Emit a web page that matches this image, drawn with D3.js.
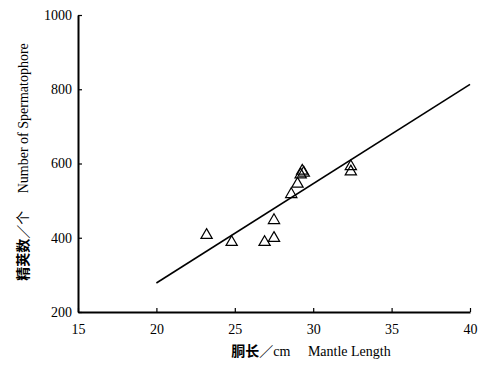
<!DOCTYPE html>
<html>
<head>
<meta charset="utf-8">
<script src="https://cdn.jsdelivr.net/npm/d3@7"></script>
<style>
  body { margin: 0; background: #fff; }
  text { font-family: "Liberation Serif", "Noto Sans CJK SC", serif; fill: #000; }
</style>
</head>
<body>
<div id="chart"></div>
<script>
// mantle length (cm) and spermatophore count for each animal
var mantle = [23.2, 24.8, 26.9, 27.5, 27.5, 28.6, 29.0, 29.2, 29.3, 29.4, 32.4, 32.4]
var counts = [407, 388, 388, 399, 447, 517, 545, 570, 580, 575, 592, 578]

// regression line endpoints
var fitX = [20, 40]
var fitY = [278, 813]

var xTicks = [15, 20, 25, 30, 35, 40]
var yTicks = [200, 400, 600, 800, 1000]

var margin = {top: 15, right: 10, bottom: 54, left: 78}
var W = 480, H = 366
var width = W - margin.left - margin.right
var height = H - margin.top - margin.bottom

var svg = d3.select("#chart").append("svg")
    .attr("width", W)
    .attr("height", H)

var g = svg.append("g")
    .attr("transform", "translate(" + margin.left + "," + margin.top + ")")

var xScale = d3.scaleLinear().domain([15, 40]).range([0, width])
var yScale = d3.scaleLinear().domain([200, 1000]).range([height, 0])

var xAxis = d3.axisBottom(xScale).tickValues(xTicks).tickFormat(d3.format("d"))
    .tickSizeInner(-4).tickSizeOuter(0).tickPadding(12)
var yAxis = d3.axisLeft(yScale).tickValues(yTicks).tickFormat(d3.format("d"))
    .tickSizeInner(-4).tickSizeOuter(0).tickPadding(6)

var xA = g.append("g").attr("transform", "translate(0," + height + ")").call(xAxis)
var yA = g.append("g").call(yAxis)

g.selectAll(".domain").attr("stroke", "#000").attr("stroke-width", 2)
g.selectAll(".tick line").attr("stroke", "#000").attr("stroke-width", 1.2)
g.selectAll(".tick text").style("font-size", "14px").attr("fill", "#000")

// fitted line
var fit = fitX.map(function(d, i) { return {x: d, y: fitY[i]} })
var line = d3.line()
    .x(function(d) { return xScale(d.x) })
    .y(function(d) { return yScale(d.y) })

g.append("path")
    .attr("d", line(fit))
    .attr("fill", "none")
    .attr("stroke", "#000")
    .attr("stroke-width", 1.6)

// open triangles
var tri = d3.symbol().type(d3.symbolTriangle).size(55)
g.selectAll(".pt")
    .data(mantle)
    .enter().append("path")
    .attr("class", "pt")
    .attr("d", tri)
    .attr("transform", function(d, i) { return "translate(" + xScale(d) + "," + yScale(counts[i]) + ")" })
    .attr("fill", "none")
    .attr("stroke", "#000")
    .attr("stroke-width", 1.2)

// axis titles
var xt = svg.append("text")
    .attr("x", 311).attr("y", 356)
    .attr("text-anchor", "middle")
    .style("font-size", "14px")
xt.append("tspan").style("font-weight", "bold").text("胴长")
xt.append("tspan").text("／cm　 Mantle Length")

var yt = svg.append("text")
    .attr("transform", "translate(28,162) rotate(-90)")
    .attr("text-anchor", "middle")
    .style("font-size", "14px")
yt.append("tspan").style("font-weight", "bold").text("精荚数")
yt.append("tspan").text("／个　 Number of Spermatophore")
</script>
</body>
</html>
